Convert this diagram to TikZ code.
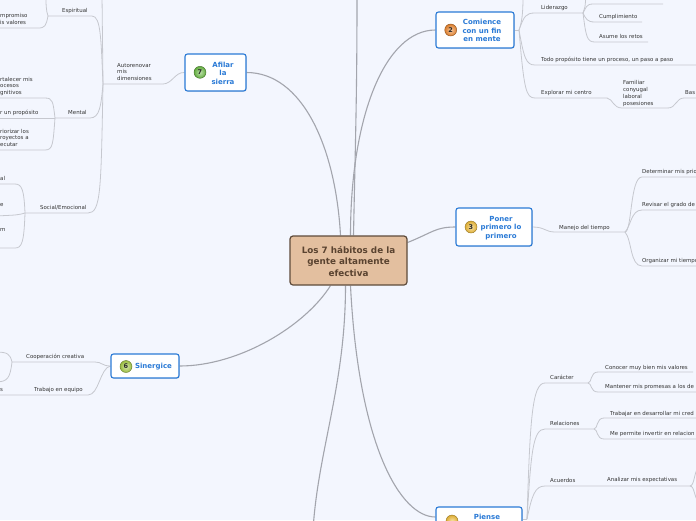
\documentclass[tikz,border=0pt]{standalone}
\usepackage{fontspec}
\setmainfont{DejaVu Sans}
\usetikzlibrary{backgrounds,shadows}
\definecolor{bgcol}{HTML}{F3F6FE}
\definecolor{txt}{HTML}{333333}
\definecolor{brline}{HTML}{C6C8CF}
\definecolor{mainline}{HTML}{A3A5AD}
\definecolor{topicblue}{HTML}{2A7AD6}
\definecolor{centerfill}{HTML}{E3BF9F}
\definecolor{centerdraw}{HTML}{5E4B3B}
\definecolor{centertext}{HTML}{5A4330}
\definecolor{icontext}{HTML}{2A2A2A}
\definecolor{icgreen}{HTML}{6DBE45}
\definecolor{icorange}{HTML}{F28A30}
\definecolor{icyellow}{HTML}{F5C03A}
\definecolor{iclime}{HTML}{A9CF46}
\begin{document}
\begin{tikzpicture}[x=1pt,y=-1pt,
 lbl/.style={font=\fontsize{5.45}{6.5}\selectfont, text=txt, inner sep=0pt, anchor=base west, align=left},
 br/.style={draw=brline, line width=0.8pt},
 mainbr/.style={draw=mainline, line width=1.1pt},
 topicbox/.style={draw=topicblue, line width=1.1pt, fill=white, rounded corners=2.5pt, inner sep=0pt,
   drop shadow={shadow xshift=0.7pt, shadow yshift=-0.7pt, opacity=0.25}},
 topictxt/.style={text=topicblue, font=\bfseries\fontsize{7}{8.4}\selectfont, align=center, inner sep=0pt},
 icon/.style={circle, inner sep=0pt, minimum size=12pt, font=\bfseries\fontsize{6.5}{6.5}\selectfont, text=icontext, line width=0.4pt},
]
\useasboundingbox (0,0) rectangle (696,520);
\begin{scope}[on background layer]
\fill[bgcol] (0,0) rectangle (696,520);
\end{scope}
\clip (0,0) rectangle (696,520);

% central node
\node[draw=centerdraw, fill=centerfill, line width=1.2pt, rounded corners=3pt, minimum width=117pt, minimum height=49pt, inner sep=0pt] (c) at (348.5,260.5) {};
\node[font=\bfseries\fontsize{8.8}{11.5}\selectfont, text=centertext, align=center, inner sep=0pt] (ct) at (348.5,261.5) {Los 7 hábitos de la\\gente altamente\\efectiva};

% topic nodes
\node[topicbox, minimum width=61pt, minimum height=37pt] (n7) at (215.5,72.5) {};
\node[topictxt] (t7) at (223,73.3) {Afilar\\la\\sierra};
\node[icon, inner color=icgreen!45!white, outer color=icgreen!90!black, draw=icgreen!60!black] (i7) at (200,72.3) {7};

\node[topicbox, minimum width=78pt, minimum height=36pt] (n2) at (475,30) {};
\node[topictxt] (t2) at (482,30.5) {Comience\\con un fin\\en mente};
\node[icon, inner color=icorange!45!white, outer color=icorange!90!black, draw=icorange!60!black] (i2) at (450.7,30) {2};

\node[topicbox, minimum width=76pt, minimum height=38pt] (n3) at (494,227) {};
\node[topictxt] (t3) at (501,228) {Poner\\primero lo\\primero};
\node[icon, inner color=icyellow!45!white, outer color=icyellow!90!black, draw=icyellow!60!black] (i3) at (471,227) {3};

\node[topicbox, minimum width=68pt, minimum height=24pt] (n6) at (145,366) {};
\node[topictxt] (t6) at (153.5,366.5) {Sinergice};
\node[icon, inner color=iclime!45!white, outer color=iclime!90!black, draw=iclime!60!black] (i6) at (126,366.5) {6};

\node[topicbox, minimum width=86pt, minimum height=40pt] (pi) at (479,527) {};
\node[topictxt, anchor=base] (tp) at (487,519.5) {Piense};
\node[icon, inner color=icyellow!45!white, outer color=icyellow!90!black, draw=icyellow!60!black] (ip) at (452,521) {};

% labels: Afilar la sierra branch (anchor = baseline of last line)
\node[lbl] (l7) at (117,80) {Autorenovar\\mis\\dimensiones};
\node[lbl] (lesp) at (62,12) {Espiritual};
\node[lbl] (lesp1) at (0,24) {mpromiso\\is valores};
\node[lbl] (lmen) at (68,114) {Mental};
\node[lbl] (lmen1) at (0,94) {rtalecer mis\\ocesos\\gnitivos};
\node[lbl] (lmen2) at (0,114) {r un propósito};
\node[lbl] (lmen3) at (0,146) {riorizar los\\royectos a\\ecutar};
\node[lbl] (lsoc) at (40,209) {Social/Emocional};
\node[lbl] (lsoc1) at (0,180) {al};
\node[lbl] (lsoc2) at (0,206) {e};
\node[lbl] (lsoc3) at (0,231) {m};

% Sinergice branch
\node[lbl] (lcoop) at (26,358) {Cooperación creativa};
\node[lbl] (ltrab) at (34,391) {Trabajo en equipo};
\node[lbl] (ltrab1) at (0,391) {s};

% Comience branch
\node[lbl] (llid) at (541,9) {Liderazgo};
\node[lbl] (lcum) at (599,18) {Cumplimiento};
\node[lbl] (lasu) at (599,38) {Asume los retos};
\node[lbl] (ltodo) at (541,61) {Todo propósito tiene un proceso, un paso a paso};
\node[lbl] (lexp) at (541,94) {Explorar mi centro};
\node[lbl, font=\fontsize{5.45}{6.7}\selectfont] (lfam) at (623,105) {Familiar\\conyugal\\laboral\\posesiones};
\node[lbl] (lbas) at (685,94) {Bas};

% Poner primero branch
\node[lbl] (lman) at (559,229) {Manejo del tiempo};
\node[lbl] (ldet) at (642,173) {Determinar mis prio};
\node[lbl] (lrev) at (642,206) {Revisar el grado de};
\node[lbl] (lorg) at (642,262) {Organizar mi tiempo};

% Piense branch
\node[lbl] (lcar) at (550,379) {Carácter};
\node[lbl] (lcon) at (605,369) {Conocer muy bien mis valores};
\node[lbl] (lmant) at (605,388) {Mantener mis promesas a los de};
\node[lbl] (lrel) at (550,425) {Relaciones};
\node[lbl] (ltra) at (610,415) {Trabajar en desarrollar mi cred};
\node[lbl] (lme) at (610,435) {Me permite invertir en relacion};
\node[lbl] (lacu) at (550,482) {Acuerdos};
\node[lbl] (lana) at (607,481) {Analizar mis expectativas};

% coordinates
\coordinate (top) at (357,-5);
\coordinate (bot) at (313,530);
\coordinate (J7) at (103,84);
\coordinate (top7) at (102,-5);
\coordinate (Je) at (48,16);
\coordinate (Jm) at (55,118);
\coordinate (Js) at (25,213);
\coordinate (Jc) at (12,362);
\coordinate (J2) at (519,30);
\coordinate (JL) at (583,13);
\coordinate (JX) at (607,98);
\coordinate (JF) at (668,108);
\coordinate (Jt) at (625,232);
\coordinate (Jp) at (527,519);
\coordinate (JC) at (588,383);
\coordinate (JR) at (594,429);
\coordinate (JA) at (690,486);

\begin{scope}[on background layer]
% main connectors
\draw[mainbr] ([xshift=-8pt]c.north) .. controls +(-5,-90) and +(55,0) .. (n7.east);
\draw[mainbr] ([xshift=2pt]c.north) .. controls +(0,-120) and +(-50,0) .. (n2.west);
\draw[mainbr] ([xshift=5pt]c.north) .. controls +(2,-100) and +(0,100) .. (top);
\draw[mainbr] ([yshift=18pt]c.east) .. controls +(25,-10) and +(-20,0) .. (n3.west);
\draw[mainbr] ([xshift=-18pt]c.south) .. controls +(-25,40) and +(60,0) .. (n6.east);
\draw[mainbr] ([xshift=-3pt]c.south) .. controls +(0,100) and +(5,-80) .. (bot);
\draw[mainbr] ([xshift=2pt]c.south) .. controls +(8,160) and +(-35,0) .. ([yshift=10pt]pi.west);

% Afilar la sierra branch
\draw[br] (n7.west) .. controls (175,72) and (172,84) .. (163,84) -- (J7);
\draw[br] (J7) -- (top7);
\draw[br] (J7) .. controls (101,40) and (101,16) .. (92,16) -- (Je);
\draw[br] (J7) .. controls (101,105) and (100,118) .. (90,118) -- (Jm);
\draw[br] (J7) .. controls (101,190) and (101,213) .. (88,213) -- (Js);
\draw[br] (Je) .. controls (46,10) and (46,5) .. (46,-5);
\draw[br] (Je) .. controls (46,26) and (45,28) .. (38,28) -- (-5,28);
\draw[br] (Jm) .. controls (53,102) and (53,98) .. (45,98) -- (-5,98);
\draw[br] (Jm) -- (-5,118);
\draw[br] (Jm) .. controls (53,144) and (53,150) .. (45,150) -- (-5,150);
\draw[br] (Js) .. controls (24,190) and (22,184) .. (15,184) -- (-5,184);
\draw[br] (Js) .. controls (18,215) .. (-5,216);
\draw[br] (Js) .. controls (24,242) and (22,248) .. (15,248) -- (-5,248);

% Sinergice branch
\draw[br] (n6.west) .. controls (102,366) and (102,362) .. (95,362) -- (Jc);
\draw[br] (Jc) .. controls (10,354) and (8,352) .. (-5,352);
\draw[br] (Jc) .. controls (10,378) and (8,382) .. (-5,382);
\draw[br] (n6.west) .. controls (100,368) and (99,395) .. (88,395) -- (-5,395);

% Comience branch
\draw[br] (n2.east) -- (J2);
\draw[br] (J2) .. controls (523,20) and (523,5) .. (523,-5);
\draw[br] (J2) .. controls (524,16) and (526,13) .. (535,13) -- (JL);
\draw[br] (J2) .. controls (524,58) and (526,65) .. (535,65) -- (700,65);
\draw[br] (J2) .. controls (524,90) and (526,98) .. (535,98) -- (JX);
\draw[br] (JL) .. controls (585,8) .. (586,-5);
\draw[br] (JL) .. controls (586,8) and (586,4) .. (593,4) -- (663,4);
\draw[br] (JL) .. controls (586,19) and (587,22) .. (595,22) -- (642,22);
\draw[br] (JL) .. controls (586,37) and (587,42) .. (595,42) -- (648,42);
\draw[br] (JX) .. controls (613,99) and (613,108) .. (622,108) -- (JF);
\draw[br] (JF) .. controls (676,108) and (676,98) .. (684,98) -- (700,98);

% Poner primero branch
\draw[br] (n3.east) .. controls (545,227) and (545,232) .. (555,232) -- (Jt);
\draw[br] (Jt) .. controls (632,232) and (630,177) .. (642,177) -- (700,177);
\draw[br] (Jt) .. controls (631,226) and (631,210) .. (642,210) -- (700,210);
\draw[br] (Jt) .. controls (632,240) and (630,266) .. (642,266) -- (700,266);

% Piense branch
\draw[br] ([yshift=8pt]pi.east) -- (Jp);
\draw[br] (Jp) .. controls (530,420) and (532,383) .. (545,383) -- (JC);
\draw[br] (Jp) .. controls (531,452) and (533,429) .. (545,429) -- (JR);
\draw[br] (Jp) .. controls (532,495) and (535,486) .. (545,486) -- (JA);
\draw[br] (JC) .. controls (592,383) and (590,372) .. (598,372) -- (693,372);
\draw[br] (JC) .. controls (592,383) and (590,392) .. (598,392) -- (700,392);
\draw[br] (JR) .. controls (598,429) and (596,418) .. (604,418) -- (700,418);
\draw[br] (JR) .. controls (598,429) and (596,439) .. (604,439) -- (700,439);
\draw[br] (JA) .. controls (695,486) and (694,468) .. (700,466);
\draw[br] (JA) .. controls (695,486) and (694,500) .. (700,503);
\end{scope}
\end{tikzpicture}
\end{document}
